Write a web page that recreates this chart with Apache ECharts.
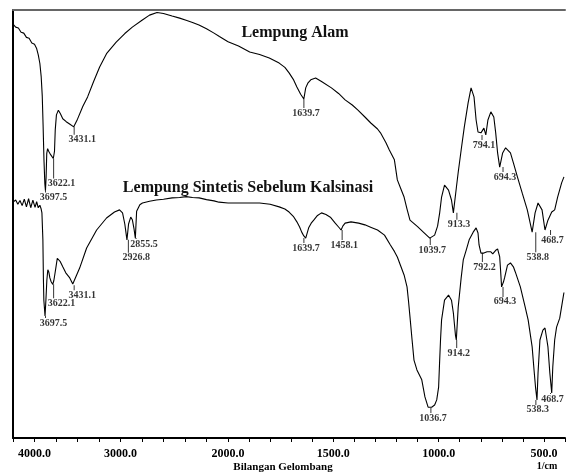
<!DOCTYPE html>
<html>
<head>
<meta charset="utf-8">
<script src="https://cdn.jsdelivr.net/npm/echarts@6/dist/echarts.min.js"></script>
<style>
html, body { margin: 0; padding: 0; background: #fff; }
#show_picture { width: 568px; height: 473px; }
</style>
</head>
<body>
<div id="show_picture"></div>
<script>
// FTIR spectra, [wavenumber 1/cm, transmittance (arb. %T)]
const alam = [
    [4000, 96.7], [3975, 96.0], [3950, 95.8], [3925, 94.8], [3900, 94.6], [3875, 93.6], [3850, 93.4],
    [3825, 92.3], [3800, 92.0], [3780, 91.0], [3765, 89.5], [3750, 87.5], [3738, 84.5], [3728, 80.0],
    [3720, 73.0], [3712, 65.0], [3704, 59.5], [3698, 57.8], [3692, 61.0], [3686, 66.5], [3678, 67.6],
    [3668, 67.0], [3650, 66.2], [3635, 65.8], [3625, 65.3], [3614, 67.0], [3607, 72.0], [3596, 75.5],
    [3578, 76.6], [3560, 75.8], [3537, 74.6], [3505, 73.9], [3470, 73.3], [3435, 72.7], [3400, 74.5],
    [3350, 77.5], [3306, 79.7], [3250, 83.3], [3194, 86.7], [3130, 89.8], [3040, 92.5], [2960, 94.5],
    [2890, 96.0], [2800, 97.6], [2730, 98.8], [2660, 99.4], [2600, 99.2], [2520, 98.6], [2450, 98.1],
    [2390, 97.6], [2330, 97.1], [2270, 96.5], [2200, 95.6], [2130, 94.6], [2080, 93.8], [2000, 92.6],
    [1950, 91.6], [1897, 90.2], [1850, 89.6], [1804, 88.8], [1757, 87.6], [1730, 86.6], [1710, 85.3],
    [1690, 83.8], [1673, 82.0], [1655, 80.3], [1640, 79.2], [1631, 81.8], [1620, 83.0], [1607, 83.7],
    [1584, 84.1], [1556, 83.3], [1509, 81.8], [1475, 80.5], [1444, 79.0], [1410, 77.8], [1383, 76.6],
    [1350, 75.0], [1322, 73.6], [1290, 72.2], [1276, 71.3], [1250, 69.0], [1234, 67.3], [1210, 65.0],
    [1196, 60.3], [1180, 58.3], [1164, 56.3], [1150, 53.5], [1136, 50.9], [1100, 49.4], [1070, 48.0],
    [1042, 46.7], [1019, 47.4], [1005, 49.5], [995, 52.6], [986, 56.3], [972, 59.1], [953, 57.9],
    [939, 55.6], [930, 52.6], [916, 58.4], [907, 62.1], [893, 67.3], [878, 72.7], [860, 78.3],
    [846, 81.8], [832, 79.7], [822, 74.3], [813, 71.5], [799, 71.3], [785, 72.4], [776, 70.8],
    [766, 74.3], [752, 76.2], [738, 75.0], [729, 71.3], [720, 66.6], [710, 63.3], [696, 66.6],
    [682, 67.8], [659, 66.6], [645, 64.3], [626, 61.0], [603, 57.2], [579, 53.3], [556, 48.1],
    [542, 52.6], [528, 54.9], [509, 53.3], [495, 48.6], [481, 50.9], [463, 52.8], [449, 53.3],
    [435, 56.3], [416, 59.6], [405, 61.0]
];

const sintetis = [
    [4000, 55.1], [3975, 55.6], [3955, 54.6], [3935, 55.5], [3915, 54.3], [3895, 55.8], [3875, 54.0],
    [3855, 55.9], [3835, 53.8], [3815, 55.6], [3795, 53.9], [3780, 55.2], [3765, 53.8], [3750, 54.4],
    [3738, 53.5], [3731, 52.6], [3722, 46.3], [3717, 37.0], [3713, 32.2], [3702, 28.5], [3694, 32.2],
    [3685, 36.9], [3676, 39.3], [3667, 38.8], [3657, 37.4], [3645, 36.5], [3630, 35.9], [3620, 36.8],
    [3611, 38.2], [3600, 40.0], [3588, 42.0], [3580, 42.3], [3560, 41.2], [3537, 40.0], [3509, 38.6],
    [3472, 37.4], [3444, 36.0], [3435, 35.7], [3380, 39.7], [3315, 44.4], [3222, 48.6], [3130, 51.4],
    [3056, 52.8], [3009, 53.3], [2981, 52.6], [2960, 50.0], [2940, 46.3], [2925, 50.0], [2905, 51.6],
    [2890, 51.0], [2875, 49.0], [2862, 46.7], [2850, 53.0], [2820, 54.5], [2796, 54.9], [2730, 55.3],
    [2667, 55.6], [2600, 55.8], [2519, 56.1], [2450, 56.2], [2389, 56.4], [2330, 56.2], [2269, 56.1],
    [2200, 55.7], [2130, 55.4], [2083, 55.1], [2000, 54.9],
    [1944, 54.9], [1850, 54.9], [1800, 54.6], [1757, 54.0], [1730, 53.5], [1710, 52.8], [1690, 51.8],
    [1673, 50.5], [1660, 49.3], [1650, 48.1], [1640, 47.2], [1631, 46.7], [1617, 49.1], [1605, 50.2],
    [1593, 50.9], [1575, 52.0], [1556, 52.6], [1535, 52.2], [1514, 51.6], [1491, 50.2], [1475, 49.3],
    [1463, 48.6], [1455, 49.5], [1444, 50.2], [1416, 50.5], [1380, 50.2], [1350, 49.8], [1320, 49.2],
    [1290, 48.6], [1257, 47.4], [1229, 45.1], [1210, 43.6], [1196, 42.3], [1180, 40.2], [1164, 38.1],
    [1150, 35.3], [1143, 32.0], [1136, 28.3], [1126, 22.9], [1117, 18.2], [1103, 15.9], [1080, 13.6],
    [1065, 9.6], [1050, 7.2], [1047, 7.0], [1033, 7.2], [1019, 7.7], [1009, 8.9], [1000, 11.9],
    [995, 18.2], [991, 22.9], [986, 27.6], [972, 32.2], [953, 33.4], [939, 32.2], [930, 29.2],
    [920, 24.0], [916, 22.9], [907, 30.6], [893, 37.4], [883, 41.6], [869, 43.9], [855, 46.3],
    [836, 48.1], [822, 49.1], [813, 47.9], [808, 45.1], [799, 43.2], [785, 43.2], [770, 43.5],
    [752, 43.5], [743, 43.0], [730, 43.8], [720, 44.2], [710, 42.3], [706, 39.3], [701, 35.3],
    [692, 36.5], [687, 37.4], [673, 40.4], [659, 40.9], [645, 40.0], [636, 38.8], [612, 35.3],
    [589, 30.6], [575, 27.6], [556, 21.3], [547, 15.9], [540, 11.9], [533, 8.9], [528, 15.2],
    [519, 22.9], [505, 25.2], [495, 25.7], [486, 22.9], [481, 21.3], [472, 15.2], [463, 10.5],
    [458, 16.6], [449, 22.9], [440, 25.9], [425, 28.0], [411, 32.2], [405, 34.0]
];

// peak labels: [labelled wavenumber, transmittance at the dip]
const alamPeaks = [
    [3697.5, 57.8], [3622.1, 65.3], [3431.1, 72.7], [1639.7, 79.2], [1039.7, 46.7],
    [913.3, 52.6], [794.1, 70.8], [694.3, 63.3], [538.8, 48.1], [468.7, 48.6]
];
const sintetisPeaks = [
    [3697.5, 28.5], [3622.1, 35.9], [3431.1, 35.7], [2926.8, 46.3], [2855.5, 46.7],
    [1639.7, 46.7], [1458.1, 48.6], [1036.7, 7.0], [914.2, 22.9], [792.2, 43.2],
    [694.3, 35.3], [538.3, 8.9], [468.7, 10.5]
];

const ticksLeft = [4000, 3000, 2000];
const ticksRight = [1500, 1000, 500];

// leader length (px) under every peak label
const alamLeader = [2, 20, 8, 9, 7, 7, 5, 5, 20, 5];
const sintetisLeader = [2, 14, 5, 13, 1, 5, 10, 5, 8, 9, 10, 5, 1];

const SERIF = '"Liberation Serif", "DejaVu Serif", serif';
const BREAK = 2000;

let myChart = echarts.init(document.getElementById('show_picture'));

function part(arr, left) {
    return arr.filter(p => left ? p[0] >= BREAK : p[0] <= BREAK);
}

function peakData(peaks, leaders, left) {
    let out = [];
    peaks.forEach((p, i) => {
        if ((p[0] > BREAK) !== left) return;
        let len = leaders[i];
        out.push({
            value: p,
            symbolSize: [1, len],
            symbolOffset: [0, len / 2],
            label: { offset: [left ? 8 : 2, 0] }
        });
    });
    return out;
}

function lineSeries(data, idx) {
    return {
        type: 'line', data: data, xAxisIndex: idx, yAxisIndex: idx,
        showSymbol: false, symbol: 'none', silent: true,
        lineStyle: { color: '#000', width: 1.1 }
    };
}

function peakSeries(data, idx) {
    return {
        type: 'scatter', data: data, xAxisIndex: idx, yAxisIndex: idx,
        symbol: 'rect', itemStyle: { color: '#000' }, silent: true,
        label: {
            show: true, position: 'bottom', distance: 0,
            formatter: p => p.value[0].toFixed(1),
            fontFamily: SERIF, fontWeight: 'bold', fontSize: 10, color: '#000'
        }
    };
}

function bottomAxis(grid, min, max, step, ticks) {
    let font = { color: '#000', fontFamily: SERIF, fontWeight: 'bold', fontSize: 12 };
    return {
        type: 'value', gridIndex: grid, position: 'bottom', inverse: true,
        min: min, max: max, interval: step,
        axisLine: { lineStyle: { color: '#000', width: 2 } },
        axisTick: { show: true, length: 4, inside: false, lineStyle: { color: '#000' } },
        splitLine: { show: false },
        axisLabel: Object.assign({
            margin: 10, showMinLabel: true, showMaxLabel: true, alignMaxLabel: 'left',
            formatter: v => !ticks.includes(v) ? '' : (v === 4000 ? '{a|' + v.toFixed(1) + '}' : v.toFixed(1)),
            rich: { a: Object.assign({ padding: [0, 0, 0, 5] }, font) }
        }, font)
    };
}

function topAxis(grid, min, max) {
    return {
        type: 'value', gridIndex: grid, position: 'top', inverse: true,
        min: min, max: max,
        axisLine: { lineStyle: { color: '#666', width: 2 } },
        axisTick: { show: false }, axisLabel: { show: false }, splitLine: { show: false }
    };
}

let option = {
    animation: false,
    backgroundColor: '#fff',
    grid: [
        { left: 13, top: 10, width: 215, bottom: 35 },
        { left: 228, top: 10, right: -2, bottom: 35 }
    ],
    xAxis: [
        bottomAxis(0, BREAK, 4000, 200, ticksLeft),
        bottomAxis(1, 400, BREAK, 100, ticksRight),
        topAxis(0, BREAK, 4000),
        topAxis(1, 400, BREAK)
    ],
    yAxis: [
        {
            type: 'value', gridIndex: 0, min: 0, max: 100,
            axisLine: { show: true, lineStyle: { color: '#000', width: 2 } },
            axisTick: { show: false }, axisLabel: { show: false }, splitLine: { show: false }
        },
        { type: 'value', gridIndex: 1, min: 0, max: 100, show: false, splitLine: { show: false } }
    ],
    graphic: [
        { type: 'text', x: 295, y: 33, style: { text: 'Lempung Alam', font: 'bold 16px ' + SERIF, fill: '#111', align: 'center', verticalAlign: 'middle' } },
        { type: 'text', x: 248, y: 188, style: { text: 'Lempung Sintetis Sebelum Kalsinasi', font: 'bold 16px ' + SERIF, fill: '#111', align: 'center', verticalAlign: 'middle' } },
        { type: 'text', x: 283, y: 467, style: { text: 'Bilangan Gelombang', font: 'bold 11px ' + SERIF, fill: '#000', align: 'center', verticalAlign: 'middle' } },
        { type: 'text', x: 547, y: 466, style: { text: '1/cm', font: 'bold 10px ' + SERIF, fill: '#000', align: 'center', verticalAlign: 'middle' } }
    ],
    series: [
        lineSeries(part(alam, true), 0),
        lineSeries(part(alam, false), 1),
        lineSeries(part(sintetis, true), 0),
        lineSeries(part(sintetis, false), 1),
        peakSeries(peakData(alamPeaks, alamLeader, true), 0),
        peakSeries(peakData(alamPeaks, alamLeader, false), 1),
        peakSeries(peakData(sintetisPeaks, sintetisLeader, true), 0),
        peakSeries(peakData(sintetisPeaks, sintetisLeader, false), 1)
    ]
};

option && myChart.setOption(option);
</script>
</body>
</html>
